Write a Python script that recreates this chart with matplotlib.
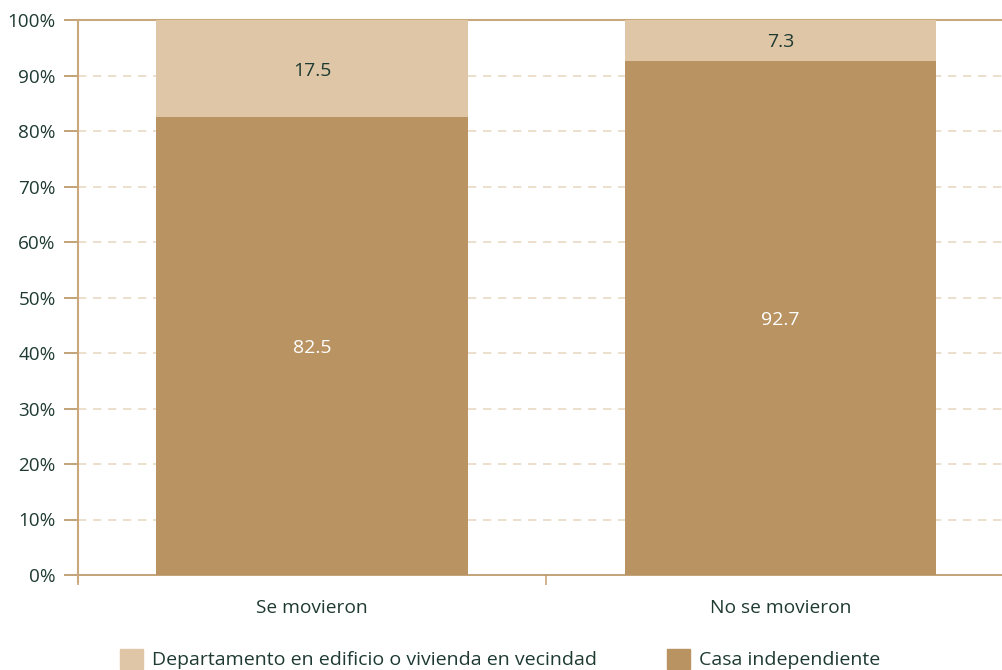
import matplotlib
matplotlib.use("Agg")
import matplotlib.pyplot as plt
from matplotlib.patches import Patch
import numpy as np

categories = ["Se movieron", "No se movieron"]
casa = [82.5, 92.7]
depto = [17.5, 7.3]
series_names = ["Departamento en edificio o vivienda en vecindad", "Casa independiente"]
yticks = [0, 10, 20, 30, 40, 50, 60, 70, 80, 90, 100]

c_light = "#dec6a6"
c_dark = "#b99361"
c_axis = "#c9a87c"
c_grid = "#ead9c4"
c_text = "#1e3a32"

plt.rcParams['font.family'] = ['Open Sans', 'DejaVu Sans']

fig = plt.figure(figsize=(10.03, 6.70), dpi=100)
ax = fig.add_axes([78/1003, 1-575/670, 1-78/1003, (575-20)/670])

x = np.arange(len(categories))
w = 0.665
ax.bar(x, casa, width=w, color=c_dark, zorder=3)
ax.bar(x, depto, width=w, bottom=casa, color=c_light, zorder=3)

for i in range(len(categories)):
    ax.text(x[i], casa[i]/2, f"{casa[i]:.1f}", ha="center", va="center_baseline",
            color="white", fontsize=14, zorder=4)
    ax.text(x[i], casa[i] + depto[i]/2, f"{depto[i]:.1f}", ha="center", va="center_baseline",
            color=c_text, fontsize=14, zorder=4)

ax.set_xlim(-0.5, 1.475)
ax.set_ylim(0, 100)
ax.set_yticks(yticks)
ax.set_yticklabels([f"{t}%" for t in yticks], color=c_text, fontsize=13.6)
for t in yticks[1:-1]:
    ax.axhline(t, color=c_grid, lw=1.2, ls=(0, (5, 4)), zorder=1)

ax.set_xticks(x)
ax.set_xticklabels(categories, color=c_text, fontsize=13.8)
ax.tick_params(axis="x", which="major", length=0, pad=17)
ax.set_xticks([-0.5, 0.5], minor=True)
ax.tick_params(axis="x", which="minor", length=7, color=c_axis, width=1.2)
ax.tick_params(axis="y", length=10, color=c_dark, width=1.2, pad=6)

ax.spines["right"].set_visible(False)
ax.spines["left"].set_visible(False)
ax.spines["top"].set_color(c_axis)
ax.spines["top"].set_linewidth(1.5)
ax.spines["bottom"].set_color(c_dark)
ax.spines["bottom"].set_linewidth(1.2)
ax.plot([0, 0], [-7/555, 1], transform=ax.transAxes, color=c_axis, lw=1.5,
        clip_on=False, zorder=5)

handles = [Patch(color=c_light), Patch(color=c_dark)]
fig.legend(handles, series_names, loc="center", bbox_to_anchor=(0.4985, 1-659/670),
           ncol=2, frameon=False, fontsize=14, handlelength=1.2, handleheight=1.2,
           handletextpad=0.46, columnspacing=3.6, labelcolor=c_text)

fig.savefig("out.png", dpi=100)
